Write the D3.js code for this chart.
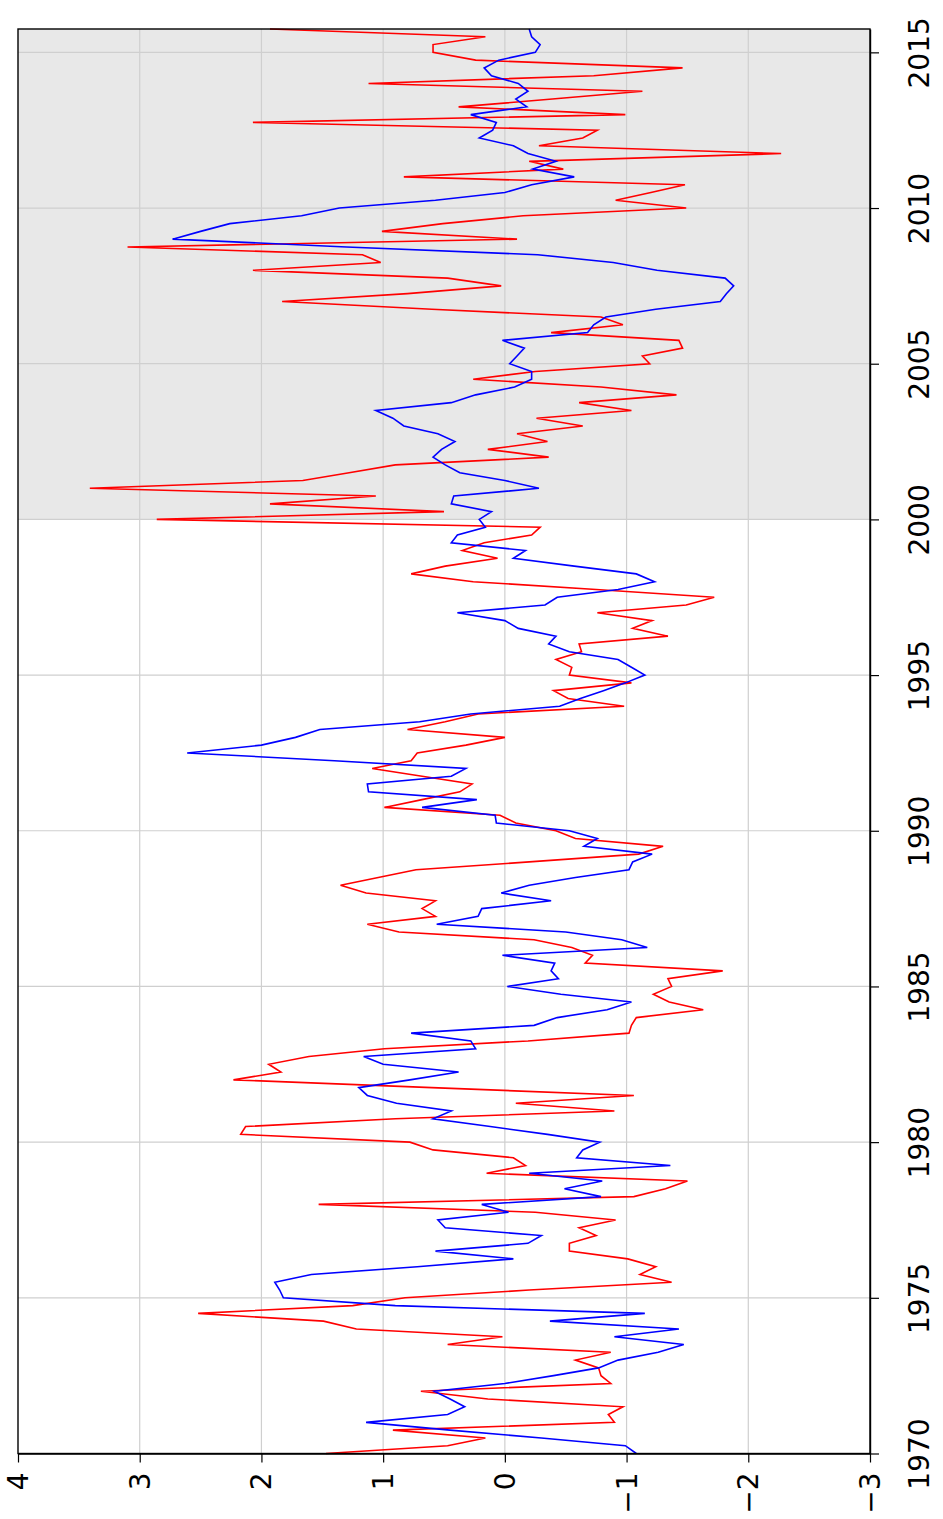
<!DOCTYPE html>
<html>
<head>
<meta charset="utf-8">
<script src="https://cdn.jsdelivr.net/npm/d3@7"></script>
<style>
  body { margin: 0; background: #fff; }
  svg { display: block; }
  text { font-family: "DejaVu Sans", sans-serif; fill: #000; }
</style>
</head>
<body>
<svg width="943" height="1519"></svg>
<script>
// quarterly series, 1970Q1 .. 2015Q4
const startYear = 1970;
const endYear = 2015.75;
const shadeFrom = 2000;
const yearTicks = [1970, 1975, 1980, 1985, 1990, 1995, 2000, 2005, 2010, 2015];
const valueTicks = [4, 3, 2, 1, 0, -1, -2, -3];

const redSeries = [
  1.47, 0.47, 0.16, 0.92, -0.90, -0.85, -0.97, 0.14, 0.69, -0.87,
  -0.79, -0.77, -0.58, -0.87, 0.47, 0.02, 1.22, 1.49, 2.52, 1.25,
  0.82, -0.20, -1.37, -1.11, -1.24, -1.01, -0.53, -0.53, -0.75, -0.61,
  -0.91, -0.25, 1.53, -1.06, -1.32, -1.50, 0.15, -0.17, -0.07, 0.59,
  0.78, 2.17, 2.13, 0.90, -0.90, -0.09, -1.06, 0.60, 2.23, 1.84,
  1.94, 1.61, 0.99, -0.19, -1.02, -1.04, -1.08, -1.63, -1.35, -1.22,
  -1.37, -1.34, -1.79, -0.66, -0.72, -0.55, -0.24, 0.87, 1.13, 0.57,
  0.68, 0.57, 1.14, 1.35, 1.04, 0.73, -0.20, -1.10, -1.30, -0.58,
  -0.42, -0.09, 0.04, 0.99, 0.68, 0.37, 0.27, 0.68, 1.09, 0.77,
  0.72, 0.32, 0.00, 0.80, 0.49, 0.22, -0.98, -0.52, -0.40, -1.04,
  -0.53, -0.55, -0.42, -0.63, -0.61, -1.34, -1.05, -1.21, -0.76, -1.49,
  -1.72, -0.75, 0.26, 0.77, 0.49, 0.06, 0.35, 0.17, -0.22, -0.29,
  2.86, 0.50, 1.93, 1.06, 3.41, 1.66, 1.28, 0.90, -0.36, 0.14,
  -0.35, -0.10, -0.64, -0.26, -1.04, -0.61, -1.41, -0.79, 0.26, -0.25,
  -1.19, -1.13, -1.46, -1.43, -0.38, -0.97, -0.79, 0.60, 1.83, 0.80,
  0.03, 0.47, 2.07, 1.02, 1.17, 3.10, -0.10, 1.01, 0.51, -0.15,
  -1.49, -0.91, -1.20, -1.48, 0.83, -0.48, -0.20, -2.27, -0.28, -0.64,
  -0.76, 2.07, -0.99, 0.38, -0.39, -1.13, 1.12, -0.73, -1.46, 0.24,
  0.59, 0.59, 0.16, 1.93
];

const blueSeries = [
  -1.08, -0.99, -0.30, 0.45, 1.14, 0.47, 0.33, 0.45, 0.58, 0.00,
  -0.40, -0.77, -0.93, -1.26, -1.47, -0.90, -1.43, -0.37, -1.15, 0.90,
  1.82, 1.85, 1.89, 1.59, 0.72, -0.07, 0.57, -0.19, -0.30, 0.49,
  0.55, -0.03, 0.19, -0.79, -0.49, -0.80, -0.20, -1.36, -0.59, -0.64,
  -0.78, -0.35, 0.12, 0.59, 0.44, 0.89, 1.13, 1.20, 0.78, 0.38,
  1.00, 1.16, 0.24, 0.28, 0.77, -0.24, -0.43, -0.84, -1.04, -0.46,
  -0.02, -0.44, -0.38, -0.41, 0.02, -1.17, -0.96, -0.50, 0.56, 0.22,
  0.19, -0.38, 0.03, -0.20, -0.58, -1.02, -1.05, -1.21, -0.65, -0.76,
  -0.53, 0.07, 0.08, 0.68, 0.23, 1.12, 1.13, 0.44, 0.32, 1.40,
  2.61, 2.00, 1.72, 1.52, 0.70, 0.28, -0.45, -0.62, -0.81, -0.99,
  -1.15, -1.04, -0.93, -0.53, -0.36, -0.42, -0.11, 0.00, 0.39, -0.33,
  -0.43, -0.93, -1.23, -1.08, -0.57, -0.07, -0.17, 0.44, 0.39, 0.16,
  0.21, 0.11, 0.44, 0.42, -0.28, 0.00, 0.37, 0.49, 0.59, 0.52,
  0.41, 0.55, 0.83, 0.92, 1.06, 0.44, 0.24, -0.08, -0.22, -0.22,
  -0.04, -0.10, -0.16, 0.02, -0.68, -0.73, -0.83, -1.24, -1.77, -1.82,
  -1.88, -1.81, -1.25, -0.89, -0.27, 1.30, 2.73, 2.50, 2.26, 1.67,
  1.36, 0.57, 0.00, -0.22, -0.57, -0.23, -0.42, -0.19, -0.07, 0.21,
  0.10, 0.07, 0.28, -0.18, -0.09, -0.19, -0.11, 0.11, 0.17, 0.05,
  -0.25, -0.29, -0.22, -0.20
];

const svg = d3.select("svg");
const plotLeft = 18, plotRight = 870, plotTop = 29, plotBottom = 1453.5;

// the chart is drawn turned a quarter turn: time runs upward, values right to left
const y = d3.scaleLinear().domain([startYear, endYear]).range([plotBottom, plotTop]);
const x = d3.scaleLinear().domain([valueTicks[0], valueTicks[valueTicks.length - 1]]).range([plotLeft, plotRight]);

svg.append("rect")
    .attr("x", plotLeft)
    .attr("y", y(endYear))
    .attr("width", plotRight - plotLeft)
    .attr("height", y(shadeFrom) - y(endYear))
    .attr("fill", "#e8e8e8");

svg.append("g")
    .selectAll("line")
    .data(valueTicks.slice(1, -1))
    .enter()
    .append("line")
    .attr("x1", d => x(d))
    .attr("x2", d => x(d))
    .attr("y1", plotTop)
    .attr("y2", plotBottom)
    .attr("stroke", "#cfcfcf")
    .attr("stroke-width", 1.2);

svg.append("g")
    .selectAll("line")
    .data(yearTicks.slice(1))
    .enter()
    .append("line")
    .attr("x1", plotLeft)
    .attr("x2", plotRight)
    .attr("y1", d => y(d))
    .attr("y2", d => y(d))
    .attr("stroke", "#cfcfcf")
    .attr("stroke-width", 1.2);

const line = d3.line()
    .x(d => x(d))
    .y((d, i) => y(startYear + i / 4));

svg.append("path")
    .datum(redSeries)
    .attr("d", line)
    .attr("fill", "none")
    .attr("stroke", "#ff0000")
    .attr("stroke-width", 1.6)
    .attr("stroke-linejoin", "miter");

svg.append("path")
    .datum(blueSeries)
    .attr("d", line)
    .attr("fill", "none")
    .attr("stroke", "#0000ff")
    .attr("stroke-width", 1.6)
    .attr("stroke-linejoin", "miter");

svg.append("rect")
    .attr("x", plotLeft)
    .attr("y", plotTop)
    .attr("width", plotRight - plotLeft)
    .attr("height", plotBottom - plotTop)
    .attr("fill", "none")
    .attr("stroke", "#000")
    .attr("stroke-width", 1.4);

const yearAxis = svg.append("g")
    .attr("transform", `translate(${plotRight},0)`)
    .call(d3.axisRight(y).tickValues(yearTicks).tickSize(9).tickSizeOuter(0).tickFormat(d3.format("d")));

const valueAxis = svg.append("g")
    .attr("transform", `translate(0,${plotBottom})`)
    .call(d3.axisBottom(x).tickValues(valueTicks).tickSize(9).tickSizeOuter(0)
        .tickFormat(d => d < 0 ? "\u2212" + (-d) : String(d)));

[yearAxis, valueAxis].forEach(g => {
    g.attr("font-family", null).attr("font-size", null);
    g.select(".domain").attr("stroke", "#000").attr("stroke-width", 1.4);
    g.selectAll(".tick line").attr("stroke", "#000").attr("stroke-width", 1.2);
});

yearAxis.selectAll(".tick text")
    .attr("x", null)
    .attr("dy", null)
    .attr("transform", "translate(49,0) rotate(-90)")
    .attr("text-anchor", "middle")
    .attr("dominant-baseline", "central")
    .style("font-size", "28px");

valueAxis.selectAll(".tick text")
    .attr("y", null)
    .attr("dy", null)
    .attr("transform", "translate(0,19) rotate(-90)")
    .attr("text-anchor", "end")
    .attr("dominant-baseline", "central")
    .style("font-size", "28px");
</script>
</body>
</html>
